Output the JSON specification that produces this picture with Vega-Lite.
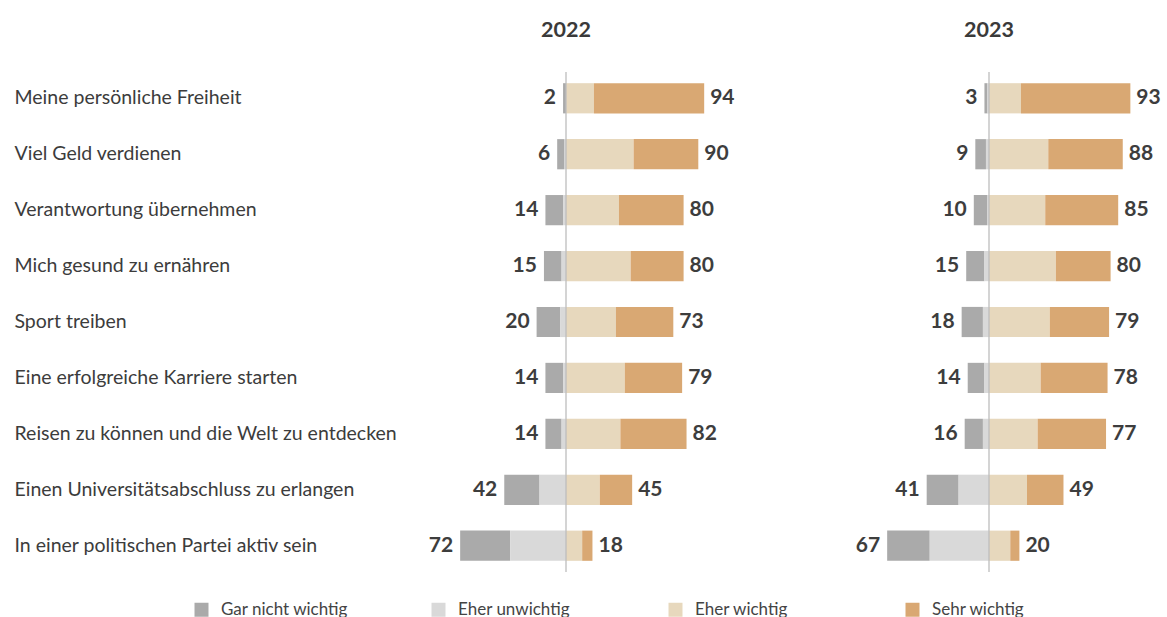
{
  "$schema": "https://vega.github.io/schema/vega-lite/v6.json",
  "padding": {"left": 14, "top": 19, "right": 5, "bottom": 0},
  "bounds": "flush",
  "spacing": 124,
  "config": {
    "font": "Lato",
    "view": {"stroke": null},
    "title": {"fontSize": 21.5, "fontWeight": "bold", "color": "#3a3a3a", "frame": "group", "anchor": "middle", "offset": 30, "baseline": "bottom", "font": "Lato"},
    "legend": {"labelFont": "Lato"}
  },
  "resolve": {"scale": {"x": "independent", "y": "shared", "color": "shared"}},
  "data": {"values": [
    {"year": "2022", "item": "Meine persönliche Freiheit", "Gar nicht wichtig": 2, "Eher unwichtig": 0, "Eher wichtig": 19, "Sehr wichtig": 75},
    {"year": "2022", "item": "Viel Geld verdienen", "Gar nicht wichtig": 5, "Eher unwichtig": 1, "Eher wichtig": 46, "Sehr wichtig": 44},
    {"year": "2022", "item": "Verantwortung übernehmen", "Gar nicht wichtig": 12, "Eher unwichtig": 2, "Eher wichtig": 36, "Sehr wichtig": 44},
    {"year": "2022", "item": "Mich gesund zu ernähren", "Gar nicht wichtig": 12, "Eher unwichtig": 3, "Eher wichtig": 44, "Sehr wichtig": 36},
    {"year": "2022", "item": "Sport treiben", "Gar nicht wichtig": 16, "Eher unwichtig": 4, "Eher wichtig": 34, "Sehr wichtig": 39},
    {"year": "2022", "item": "Eine erfolgreiche Karriere starten", "Gar nicht wichtig": 12, "Eher unwichtig": 2, "Eher wichtig": 40, "Sehr wichtig": 39},
    {"year": "2022", "item": "Reisen zu können und die Welt zu entdecken", "Gar nicht wichtig": 11, "Eher unwichtig": 3, "Eher wichtig": 37, "Sehr wichtig": 45},
    {"year": "2022", "item": "Einen Universitätsabschluss zu erlangen", "Gar nicht wichtig": 24, "Eher unwichtig": 18, "Eher wichtig": 23, "Sehr wichtig": 22},
    {"year": "2022", "item": "In einer politischen Partei aktiv sein", "Gar nicht wichtig": 34, "Eher unwichtig": 38, "Eher wichtig": 11, "Sehr wichtig": 7},
    {"year": "2023", "item": "Meine persönliche Freiheit", "Gar nicht wichtig": 2, "Eher unwichtig": 1, "Eher wichtig": 21, "Sehr wichtig": 72},
    {"year": "2023", "item": "Viel Geld verdienen", "Gar nicht wichtig": 7, "Eher unwichtig": 2, "Eher wichtig": 39, "Sehr wichtig": 49},
    {"year": "2023", "item": "Verantwortung übernehmen", "Gar nicht wichtig": 9, "Eher unwichtig": 1, "Eher wichtig": 37, "Sehr wichtig": 48},
    {"year": "2023", "item": "Mich gesund zu ernähren", "Gar nicht wichtig": 12, "Eher unwichtig": 3, "Eher wichtig": 44, "Sehr wichtig": 36},
    {"year": "2023", "item": "Sport treiben", "Gar nicht wichtig": 14, "Eher unwichtig": 4, "Eher wichtig": 40, "Sehr wichtig": 39},
    {"year": "2023", "item": "Eine erfolgreiche Karriere starten", "Gar nicht wichtig": 11, "Eher unwichtig": 3, "Eher wichtig": 34, "Sehr wichtig": 44},
    {"year": "2023", "item": "Reisen zu können und die Welt zu entdecken", "Gar nicht wichtig": 12, "Eher unwichtig": 4, "Eher wichtig": 32, "Sehr wichtig": 45},
    {"year": "2023", "item": "Einen Universitätsabschluss zu erlangen", "Gar nicht wichtig": 21, "Eher unwichtig": 20, "Eher wichtig": 25, "Sehr wichtig": 24},
    {"year": "2023", "item": "In einer politischen Partei aktiv sein", "Gar nicht wichtig": 28, "Eher unwichtig": 39, "Eher wichtig": 14, "Sehr wichtig": 6}
  ]},
  "hconcat": [
    {
      "width": 294,
      "height": 500,
      "title": "2022",
      "transform": [{"filter": "datum.year == '2022'"}],
      "layer": [
        {
          "mark": {"type": "bar"},
          "transform": [
            {"fold": ["Gar nicht wichtig", "Eher unwichtig", "Eher wichtig", "Sehr wichtig"], "as": ["cat", "v"]},
            {"calculate": "(datum.cat == 'Gar nicht wichtig' || datum.cat == 'Eher unwichtig') ? -datum.v : datum.v", "as": "s"},
            {"calculate": "(datum.cat == 'Eher unwichtig' || datum.cat == 'Eher wichtig') ? 1 : 2", "as": "ord"}
          ],
          "encoding": {
            "y": {"field": "item", "type": "nominal", "sort": ["Meine persönliche Freiheit", "Viel Geld verdienen", "Verantwortung übernehmen", "Mich gesund zu ernähren", "Sport treiben", "Eine erfolgreiche Karriere starten", "Reisen zu können und die Welt zu entdecken", "Einen Universitätsabschluss zu erlangen", "In einer politischen Partei aktiv sein"], "scale": {"paddingInner": 0.46, "paddingOuter": 0.2},
              "axis": {"title": null, "domain": false, "ticks": false, "tickSize": 0, "labelAlign": "left", "labelPadding": 405, "labelFontSize": 19.5, "labelColor": "#3c3c3c", "labelLimit": 500, "labelFont": "Lato"}},
            "x": {"field": "s", "type": "quantitative", "stack": "zero", "scale": {"domain": [-100, 100]}, "axis": null},
            "color": {"field": "cat", "type": "nominal", "scale": {"domain": ["Gar nicht wichtig", "Eher unwichtig", "Eher wichtig", "Sehr wichtig"], "range": ["#aaaaaa", "#d9d9d9", "#e7d8bd", "#d9a873"]},
              "legend": {"orient": "none", "legendX": -226, "legendY": 529, "direction": "horizontal", "columns": 4, "title": null, "symbolType": "square", "symbolSize": 196, "symbolStrokeWidth": 0, "labelFontSize": 17, "labelColor": "#444444", "columnPadding": 81, "gridAlign": "all", "labelOffset": 11}},
            "order": {"field": "ord"}
          }
        },
        {
          "mark": {"type": "text", "align": "right", "dx": -7, "fontSize": 21, "fontWeight": "bold", "color": "#3d3d3d"},
          "transform": [
            {"calculate": "datum['Gar nicht wichtig'] + datum['Eher unwichtig']", "as": "neg"},
            {"calculate": "-datum.neg", "as": "negx"}
          ],
          "encoding": {
            "y": {"field": "item", "type": "nominal", "sort": ["Meine persönliche Freiheit", "Viel Geld verdienen", "Verantwortung übernehmen", "Mich gesund zu ernähren", "Sport treiben", "Eine erfolgreiche Karriere starten", "Reisen zu können und die Welt zu entdecken", "Einen Universitätsabschluss zu erlangen", "In einer politischen Partei aktiv sein"]},
            "x": {"field": "negx", "type": "quantitative"},
            "text": {"field": "neg", "type": "quantitative"}
          }
        },
        {
          "mark": {"type": "text", "align": "left", "dx": 6, "fontSize": 21, "fontWeight": "bold", "color": "#3d3d3d"},
          "transform": [
            {"calculate": "datum['Eher wichtig'] + datum['Sehr wichtig']", "as": "pos"}
          ],
          "encoding": {
            "y": {"field": "item", "type": "nominal", "sort": ["Meine persönliche Freiheit", "Viel Geld verdienen", "Verantwortung übernehmen", "Mich gesund zu ernähren", "Sport treiben", "Eine erfolgreiche Karriere starten", "Reisen zu können und die Welt zu entdecken", "Einen Universitätsabschluss zu erlangen", "In einer politischen Partei aktiv sein"]},
            "x": {"field": "pos", "type": "quantitative"},
            "text": {"field": "pos", "type": "quantitative"}
          }
        },
        {
          "data": {"values": [{"zero": 0}]},
          "mark": {"type": "rule", "color": "#bdbdbd", "strokeWidth": 1.3},
          "encoding": {"x": {"field": "zero", "type": "quantitative"}}
        }
      ]
    },
    {
      "width": 304,
      "height": 500,
      "title": "2023",
      "transform": [{"filter": "datum.year == '2023'"}],
      "layer": [
        {
          "mark": {"type": "bar"},
          "transform": [
            {"fold": ["Gar nicht wichtig", "Eher unwichtig", "Eher wichtig", "Sehr wichtig"], "as": ["cat", "v"]},
            {"calculate": "(datum.cat == 'Gar nicht wichtig' || datum.cat == 'Eher unwichtig') ? -datum.v : datum.v", "as": "s"},
            {"calculate": "(datum.cat == 'Eher unwichtig' || datum.cat == 'Eher wichtig') ? 1 : 2", "as": "ord"}
          ],
          "encoding": {
            "y": {"field": "item", "type": "nominal", "sort": ["Meine persönliche Freiheit", "Viel Geld verdienen", "Verantwortung übernehmen", "Mich gesund zu ernähren", "Sport treiben", "Eine erfolgreiche Karriere starten", "Reisen zu können und die Welt zu entdecken", "Einen Universitätsabschluss zu erlangen", "In einer politischen Partei aktiv sein"], "scale": {"paddingInner": 0.46, "paddingOuter": 0.2}, "axis": null},
            "x": {"field": "s", "type": "quantitative", "stack": "zero", "scale": {"domain": [-100, 100]}, "axis": null},
            "color": {"field": "cat", "type": "nominal", "scale": {"domain": ["Gar nicht wichtig", "Eher unwichtig", "Eher wichtig", "Sehr wichtig"], "range": ["#aaaaaa", "#d9d9d9", "#e7d8bd", "#d9a873"]},
              "legend": {"orient": "none", "legendX": -226, "legendY": 529, "direction": "horizontal", "columns": 4, "title": null, "symbolType": "square", "symbolSize": 196, "symbolStrokeWidth": 0, "labelFontSize": 17, "labelColor": "#444444", "columnPadding": 81, "gridAlign": "all", "labelOffset": 11}},
            "order": {"field": "ord"}
          }
        },
        {
          "mark": {"type": "text", "align": "right", "dx": -7, "fontSize": 21, "fontWeight": "bold", "color": "#3d3d3d"},
          "transform": [
            {"calculate": "datum['Gar nicht wichtig'] + datum['Eher unwichtig']", "as": "neg"},
            {"calculate": "-datum.neg", "as": "negx"}
          ],
          "encoding": {
            "y": {"field": "item", "type": "nominal", "sort": ["Meine persönliche Freiheit", "Viel Geld verdienen", "Verantwortung übernehmen", "Mich gesund zu ernähren", "Sport treiben", "Eine erfolgreiche Karriere starten", "Reisen zu können und die Welt zu entdecken", "Einen Universitätsabschluss zu erlangen", "In einer politischen Partei aktiv sein"]},
            "x": {"field": "negx", "type": "quantitative"},
            "text": {"field": "neg", "type": "quantitative"}
          }
        },
        {
          "mark": {"type": "text", "align": "left", "dx": 6, "fontSize": 21, "fontWeight": "bold", "color": "#3d3d3d"},
          "transform": [
            {"calculate": "datum['Eher wichtig'] + datum['Sehr wichtig']", "as": "pos"}
          ],
          "encoding": {
            "y": {"field": "item", "type": "nominal", "sort": ["Meine persönliche Freiheit", "Viel Geld verdienen", "Verantwortung übernehmen", "Mich gesund zu ernähren", "Sport treiben", "Eine erfolgreiche Karriere starten", "Reisen zu können und die Welt zu entdecken", "Einen Universitätsabschluss zu erlangen", "In einer politischen Partei aktiv sein"]},
            "x": {"field": "pos", "type": "quantitative"},
            "text": {"field": "pos", "type": "quantitative"}
          }
        },
        {
          "data": {"values": [{"zero": 0}]},
          "mark": {"type": "rule", "color": "#bdbdbd", "strokeWidth": 1.3},
          "encoding": {"x": {"field": "zero", "type": "quantitative"}}
        }
      ]
    }
  ]
}
